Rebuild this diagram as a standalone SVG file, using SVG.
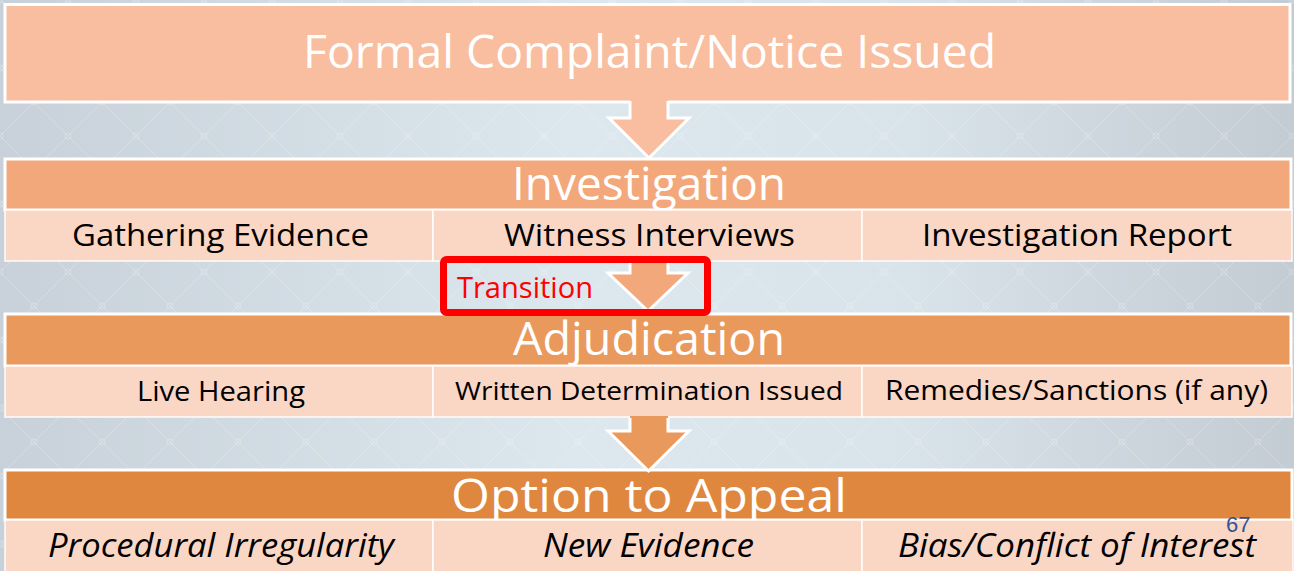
<svg xmlns="http://www.w3.org/2000/svg" width="1294" height="571" viewBox="0 0 1294 571">
<defs>
<linearGradient id="bg" x1="0" y1="0" x2="1" y2="0">
<stop offset="0" stop-color="#C8D1D9"/>
<stop offset="0.45" stop-color="#DCE7EE"/>
<stop offset="0.7" stop-color="#D9E3EA"/>
<stop offset="1" stop-color="#C3CBD3"/>
</linearGradient>
<pattern id="lat" x="0" y="0" width="68" height="68" patternUnits="userSpaceOnUse">
<path d="M0 0 L68 68 M68 0 L0 68" stroke="#FFFFFF" stroke-opacity="0.22" stroke-width="1" fill="none"/>
<circle cx="34" cy="34" r="3" fill="none" stroke="#FFFFFF" stroke-opacity="0.22"/>
<circle cx="0" cy="0" r="3" fill="none" stroke="#FFFFFF" stroke-opacity="0.22"/>
<circle cx="68" cy="0" r="3" fill="none" stroke="#FFFFFF" stroke-opacity="0.22"/>
<circle cx="0" cy="68" r="3" fill="none" stroke="#FFFFFF" stroke-opacity="0.22"/>
<circle cx="68" cy="68" r="3" fill="none" stroke="#FFFFFF" stroke-opacity="0.22"/>
</pattern>
</defs>
<style>
.box{stroke:#FFFFFF;stroke-width:3}
.cell{fill:#FAD6C5;stroke:#FFFFFF;stroke-opacity:0.7;stroke-width:2}
.head{font-family:"Open Sans",Lato,"Liberation Sans",sans-serif;fill:#FFFFFF;text-anchor:middle;font-weight:400}
.sub{font-family:"Open Sans",Lato,"Liberation Sans",sans-serif;fill:#000000;text-anchor:middle}
.ital{font-style:italic}
.arrow-out{fill:none;stroke:#FFFFFF;stroke-width:3;stroke-linejoin:miter}
</style>
<rect x="0" y="0" width="1294" height="571" fill="url(#bg)"/>
<rect x="0" y="0" width="1294" height="571" fill="url(#lat)"/>

<g id="node-complaint">
<rect class="box" x="5" y="4.5" width="1285" height="97.5" fill="#F8BE9F"/>
<text class="head" x="649.5" y="68" font-size="46" textLength="693" lengthAdjust="spacingAndGlyphs">Formal Complaint/Notice Issued</text>
</g>

<g id="node-investigation">
<rect class="box" x="5" y="159" width="1286" height="51" fill="#F3A87C"/>
<text class="head" x="649" y="200" font-size="45" textLength="274" lengthAdjust="spacingAndGlyphs">Investigation</text>
<rect class="cell" x="5" y="210" width="428" height="51"/>
<rect class="cell" x="433" y="210" width="429" height="51"/>
<rect class="cell" x="862" y="210" width="430" height="51"/>
<text class="sub" x="220.5" y="246" font-size="31" textLength="297" lengthAdjust="spacingAndGlyphs">Gathering Evidence</text>
<text class="sub" x="649.5" y="246" font-size="31" textLength="291" lengthAdjust="spacingAndGlyphs">Witness Interviews</text>
<text class="sub" x="1077" y="246" font-size="31" textLength="310" lengthAdjust="spacingAndGlyphs">Investigation Report</text>
</g>

<g id="node-adjudication">
<rect class="box" x="5" y="314" width="1286" height="52" fill="#EA995D"/>
<text class="head" x="649" y="355" font-size="45" textLength="272" lengthAdjust="spacingAndGlyphs">Adjudication</text>
<rect class="cell" x="5" y="366" width="428" height="51"/>
<rect class="cell" x="433" y="366" width="429" height="51"/>
<rect class="cell" x="862" y="366" width="430" height="51"/>
<text class="sub" x="221" y="401" font-size="27" textLength="168" lengthAdjust="spacingAndGlyphs">Live Hearing</text>
<text class="sub" x="649" y="400" font-size="25" textLength="388" lengthAdjust="spacingAndGlyphs">Written Determination Issued</text>
<text class="sub" x="1076.5" y="400" font-size="27" textLength="383" lengthAdjust="spacingAndGlyphs">Remedies/Sanctions (if any)</text>
</g>

<g id="node-appeal">
<rect class="box" x="5" y="470" width="1287" height="50" fill="#DF873F"/>
<text class="head" x="649" y="512" font-size="46" textLength="396" lengthAdjust="spacingAndGlyphs">Option to Appeal</text>
<rect class="cell" x="5" y="520" width="428" height="54"/>
<rect class="cell" x="433" y="520" width="429" height="54"/>
<rect class="cell" x="862" y="520" width="431" height="54"/>
<text class="sub ital" x="221" y="557" font-size="32" textLength="346" lengthAdjust="spacingAndGlyphs">Procedural Irregularity</text>
<text class="sub ital" x="648.5" y="557" font-size="32" textLength="211" lengthAdjust="spacingAndGlyphs">New Evidence</text>
<text class="sub ital" x="1077" y="557" font-size="32" textLength="358" lengthAdjust="spacingAndGlyphs">Bias/Conflict of Interest</text>
</g>

<g id="connectors">
<polygon points="630,100 668,100 668,118 689,118 649,158 609,118 630,118" fill="#F8BE9F"/>
<polyline class="arrow-out" points="630,101 630,118 609,118 649,158 689,118 668,118 668,101"/>
<polygon points="630,259 668,259 668,273 688,273 648,311 608,273 630,273" fill="#F3A87C"/>
<polyline class="arrow-out" points="630,261 630,273 608,273 648,311 688,273 668,273 668,261"/>
<polygon points="630,416 668,416 668,431 689,431 648.5,471 608,431 630,431" fill="#EA995D"/>
<polyline class="arrow-out" points="630,418 630,431 608,431 648.5,471 689,431 668,431 668,418"/>
</g>

<g id="node-transition">
<rect x="443.5" y="259.5" width="264" height="53" rx="3" fill="none" stroke="#FF0000" stroke-width="7"/>
<text x="457" y="298" font-family="'Open Sans',Lato,'Liberation Sans',sans-serif" font-size="30" fill="#FF0000" textLength="136" lengthAdjust="spacingAndGlyphs">Transition</text>
</g>

<g id="node-pagenum">
<text x="1226" y="532" font-family="'Liberation Sans',Arial,sans-serif" font-size="22" fill="#2F5597">67</text>
</g>
</svg>
